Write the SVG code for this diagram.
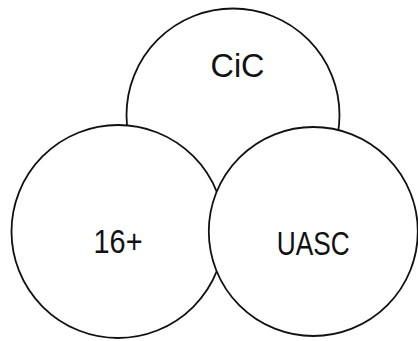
<svg xmlns="http://www.w3.org/2000/svg" width="418" height="341" viewBox="0 0 418 341">
<style>
.c{fill:#fff;stroke:#111;stroke-width:1.8}
.t{font-family:"Liberation Sans",Arial,sans-serif;font-size:33px;fill:#111;text-anchor:middle}
</style>
<rect width="418" height="341" fill="#fff"/>
<g id="cic">
<circle class="c" cx="233" cy="115" r="106.5"/>
<text class="t" x="237.5" y="77" textLength="54" lengthAdjust="spacingAndGlyphs">CiC</text>
</g>
<g id="sixteen">
<circle class="c" cx="118" cy="231.5" r="106.5"/>
<text class="t" x="118" y="253" textLength="49" lengthAdjust="spacingAndGlyphs">16+</text>
</g>
<g id="uasc">
<circle class="c" cx="313.3" cy="231.5" r="104.5"/>
<text class="t" x="313.3" y="255" textLength="73" lengthAdjust="spacingAndGlyphs">UASC</text>
</g>
<g id="connectors"/>
</svg>
